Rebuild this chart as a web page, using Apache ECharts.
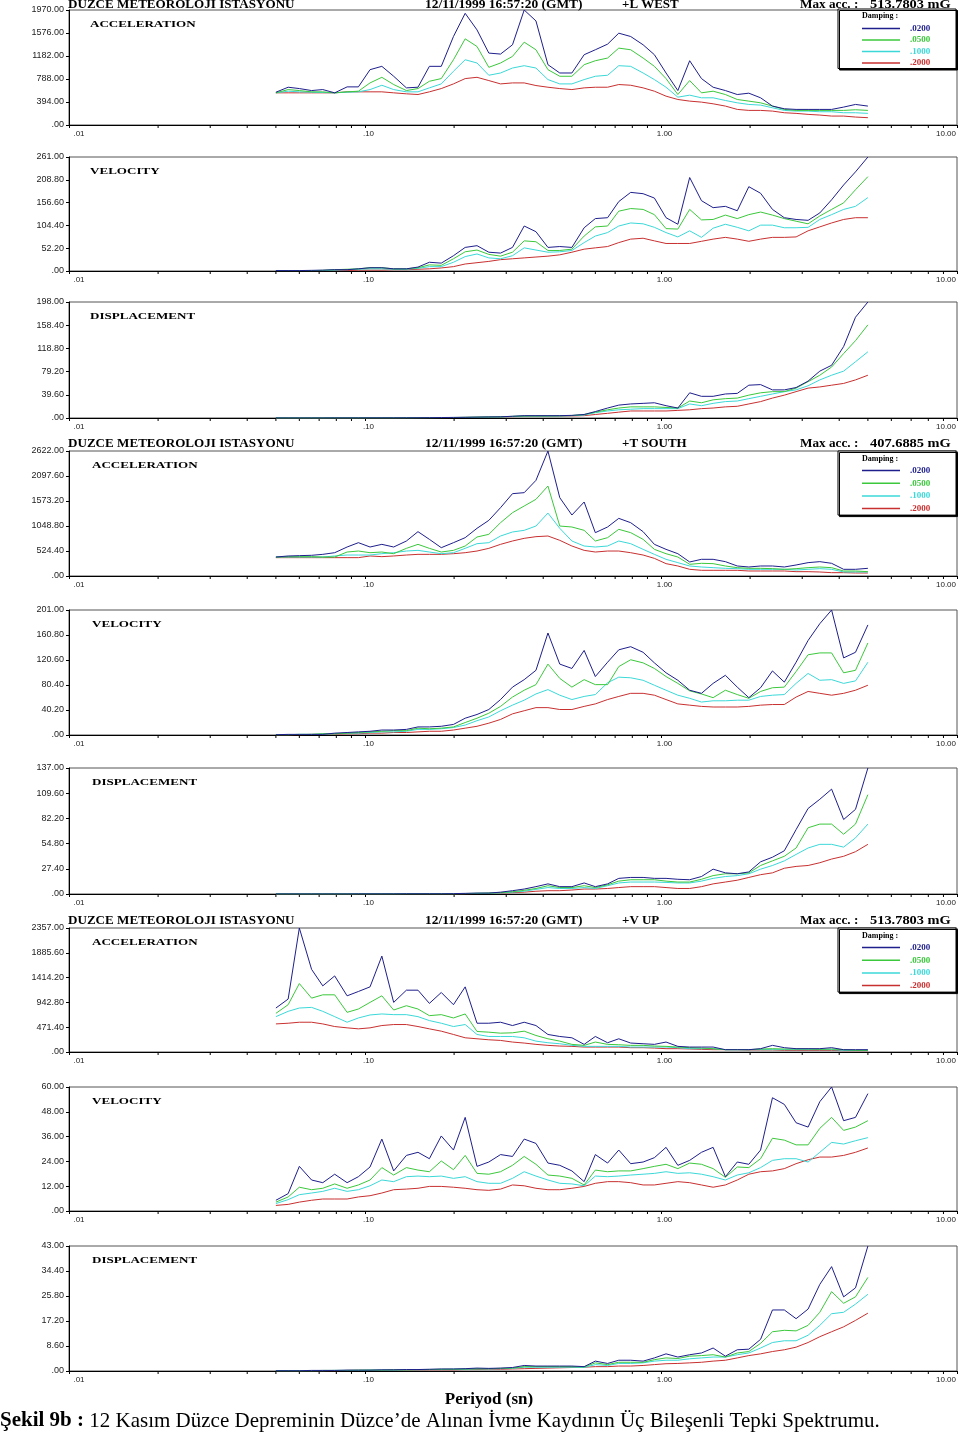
<!DOCTYPE html>
<html><head><meta charset="utf-8">
<script src="https://cdn.jsdelivr.net/npm/echarts@6/dist/echarts.min.js"></script>
<style>html,body{margin:0;padding:0;background:#fff}#c{width:960px;height:1433px}</style>
</head><body><div id="c"></div>
<script>
// ---- DATA ----
const periods = [0.050,0.055,0.060,0.066,0.072,0.079,0.087,0.095,0.104,0.114,0.125,0.138,0.151,0.165,0.181,0.199,0.218,0.239,0.262,0.287,0.315,0.345,0.378,0.415,0.455,0.50,0.55,0.60,0.66,0.72,0.79,0.87,0.95,1.04,1.14,1.25,1.37,1.50,1.65,1.81,1.98,2.17,2.38,2.61,2.86,3.14,3.44,3.77,4.14,4.54,5.00];
const dampings = ['.0200','.0500','.1000','.2000'];
const minorTicks = [0.02,0.03,0.04,0.05,0.06,0.07,0.08,0.09,0.2,0.3,0.4,0.5,0.6,0.7,0.8,0.9,2,3,4,5,6,7,8,9];
const xTickLabels = ['.01','.10','1.00','10.00'];
const yMaxes = [1970,261,198,2622,201,137,2357,60,43];
const panelTitles = ['ACCELERATION','VELOCITY','DISPLACEMENT','ACCELERATION','VELOCITY','DISPLACEMENT','ACCELERATION','VELOCITY','DISPLACEMENT'];
const stationName = 'DUZCE METEOROLOJI ISTASYONU';
const eventTime = '12/11/1999 16:57:20 (GMT)';
const components = ['+L WEST','+T SOUTH','+V UP'];
const maxAccLabel = 'Max acc. :';
const maxAccValues = ['513.7803 mG','407.6885 mG','513.7803 mG'];
const dampingTitle = 'Damping :';
const xAxisTitle = 'Periyod (sn)';
const captionBold = 'Şekil 9b :';
const captionText = ' 12 Kasım Düzce Depreminin Düzce’de Alınan İvme Kaydının Üç Bileşenli Tepki Spektrumu.';

// L WEST
const lwAcc020 = [562,647,624,590,607,551,653,653,948,1005,835,636,647,1005,1005,1516,1913,1629,1232,1215,1374,1970,1783,1033,891,891,1204,1289,1385,1573,1516,1374,1204,891,590,1101,795,647,590,522,545,466,324,278,267,267,267,267,307,352,324];
const lwAcc050 = [551,607,590,568,568,551,568,579,721,817,693,590,624,749,795,1118,1476,1345,988,1062,1175,1419,1289,948,835,835,1033,1101,1147,1317,1289,1147,1005,795,522,761,551,579,522,437,409,380,324,267,250,250,250,250,250,261,250];
const lwAcc100 = [551,579,568,562,556,551,562,568,607,681,607,568,568,636,704,920,1118,1062,852,891,976,1016,976,778,704,704,778,835,852,1016,1005,891,778,647,477,511,466,466,420,380,352,341,295,250,238,238,227,227,210,210,199];
const lwAcc200 = [551,551,551,551,551,551,568,568,568,568,551,534,522,568,624,704,795,817,761,704,721,721,676,647,624,607,636,647,647,693,681,636,579,494,437,409,392,363,324,267,250,250,238,210,199,182,170,153,153,136,125];
const lwVel020 = [1,1,1,1.5,2,3,3,5,7.5,7.5,5,5,9,20,18,35,54,58,43,41,54,103,90,54,56,54,99,120,122,159,180,177,167,122,107,214,161,145,148,138,193,178,141,122,118,116,133,163,197,227,261];
const lwVel050 = [1,1,1,1,1.5,3,4,5,7.5,7.5,5,5,7.5,14,13,28,44,48,38,34,43,69,67,47,47,50,80,101,103,137,143,141,129,97,96,141,117,118,128,120,129,135,128,120,114,108,126,141,156,186,216];
const lwVel100 = [1,1,1,1,1,2,3,4,5,5,4,4,6,10,10,20,33,39,30,28,35,53,48,43,44,47,65,80,88,103,110,108,100,88,78,92,77,98,107,100,92,105,105,99,99,100,118,129,141,148,168];
const lwVel200 = [1,1,1,1,1,1,1,2,2,2,3,3,4,5,7,10,16,19,22,26,28,30,32,34,37,43,50,53,56,65,73,75,69,63,63,63,68,73,77,73,68,73,77,77,78,92,101,110,118,122,122];
const lwDis020 = [0.1,0.1,0.1,0.1,0.1,0.2,0.2,0.2,0.3,0.3,0.3,0.4,0.5,0.6,0.8,1,1.2,1.5,1.8,2,3,4,4,4,4,4.5,6,11,17,22,24,25,26,21,17,43,37,37,41,42,56,57,48,48,52,63,80,90,122,172,198];
const lwDis050 = [0.1,0.1,0.1,0.1,0.1,0.2,0.2,0.2,0.3,0.3,0.3,0.4,0.5,0.6,0.7,0.9,1.1,1.4,1.7,2,2.8,3.5,3.6,3.6,3.8,4.2,6,10,14,17,19,19,19,18,17,29,26,31,33,34,39,43,45,45,51,62,73,87,110,132,159];
const lwDis100 = [0.1,0.1,0.1,0.1,0.1,0.2,0.2,0.2,0.3,0.3,0.3,0.4,0.5,0.6,0.7,0.8,1,1.3,1.6,1.9,2.6,3.2,3.3,3.3,3.5,4,5,9,12,14,15,16,16,16,16,24,21,25,28,29,33,37,41,45,48,55,65,73,80,96,113];
const lwDis200 = [0.1,0.1,0.1,0.1,0.1,0.2,0.2,0.2,0.3,0.3,0.3,0.4,0.5,0.6,0.7,0.8,1,1.2,1.5,1.8,2.4,2.8,3,3,3.2,3.5,4,6,8,10,12,12,12,12,13,14,16,17,19,20,24,28,34,39,45,51,53,56,59,65,73];
// T SOUTH
const tsAcc020 = [398,420,427,434,454,489,608,699,608,664,608,734,930,769,594,699,804,1000,1167,1433,1727,1748,2006,2622,1643,1279,1552,909,1028,1209,1118,930,664,559,468,294,350,350,301,210,189,210,210,189,231,280,301,266,140,140,161];
const tsAcc050 = [398,405,405,405,398,398,503,524,489,503,468,580,664,580,503,538,629,818,874,1118,1328,1468,1608,1887,1048,1028,958,734,804,979,909,769,559,468,398,245,266,259,210,175,161,161,154,140,154,175,189,175,105,105,91];
const tsAcc100 = [398,398,398,398,398,420,440,440,440,468,489,524,538,503,468,489,580,678,699,839,923,958,1048,1320,1000,734,629,608,629,734,678,559,454,350,280,210,189,175,161,154,140,140,140,140,126,140,154,140,84,84,84];
const tsAcc200 = [385,385,385,385,385,385,385,385,420,406,420,440,454,454,454,468,489,524,580,664,734,790,825,839,748,629,538,503,524,524,489,440,370,259,210,140,119,119,119,119,105,105,105,105,91,91,84,70,70,63,63];
const tsVel020 = [0.5,1,1,1,1,3,4,5,6,8,8,9,13,13,14,17,27,33,41,57,77,89,104,164,114,107,136,94,117,137,142,133,116,100,88,72,67,83,96,77,60,76,103,85,117,152,179,201,124,133,177];
const tsVel050 = [0.5,0.5,1,1,2,2,3,4,5,6,7,7,11,10,11,13,20,27,35,46,61,72,81,114,91,77,89,81,81,110,121,116,107,94,83,71,66,60,72,65,59,70,76,77,102,129,132,132,100,104,148];
const tsVel100 = [0.5,0.5,1,1,1.5,2,3,3,4,5,5,6,9,9,10,12,16,23,29,39,48,56,66,73,64,57,62,65,84,93,92,88,80,72,64,59,53,55,55,56,56,62,64,65,83,99,88,89,83,87,117];
const tsVel200 = [0.3,0.3,0.5,1,1,1.5,2,2,3,3,4,4,5,6,6,8,11,14,19,25,34,39,44,44,41,41,46,50,57,62,67,67,64,57,50,48,46,45,45,45,46,48,49,49,61,70,67,64,67,72,80];
const tsDis020 = [0.1,0.1,0.1,0.1,0.1,0.1,0.1,0.2,0.2,0.2,0.2,0.3,0.3,0.3,0.3,0.4,0.7,1,1,2,3.6,5.4,8,11,8,8,12,8,11,17,18,18,17,17,16,15.5,19,27,23,22,24,35,40,47,70,93,103,114,81,92,137];
const tsDis050 = [0.1,0.1,0.1,0.1,0.1,0.1,0.1,0.2,0.2,0.2,0.2,0.3,0.3,0.3,0.3,0.3,0.5,0.8,1,1.5,2.5,4,6,9,7,7,9,7,10,14,15.5,15.5,15.5,14,13,13,16,20,22,22,23,31,36,41,50,72,76,76,65,76,108];
const tsDis100 = [0.1,0.1,0.1,0.1,0.1,0.1,0.1,0.2,0.2,0.2,0.2,0.3,0.3,0.3,0.3,0.3,0.4,0.6,0.8,1.2,2,3,5,7,6,6,7,6,9,12,13,13,13,12.6,12,12,14,17,19,20,22,27,31,36,43,50,54,54,51,61,76];
const tsDis200 = [0.1,0.1,0.1,0.1,0.1,0.1,0.1,0.1,0.1,0.1,0.2,0.2,0.2,0.2,0.2,0.2,0.3,0.5,0.7,1,1.5,2,3,3.6,3.6,4.3,5.4,5.4,6,7,8,8,8,7,6,6,8,11,13,15,18,21,23,28,30,31,34,38,41,46,54];
// V UP
const vuAcc020 = [836,1006,2357,1571,1257,1446,1068,1150,1238,1823,943,1175,1175,924,1131,899,1238,547,547,566,503,566,503,333,295,270,145,295,176,251,170,157,145,189,107,94,94,94,44,44,44,63,126,82,63,63,63,82,44,44,44];
const vuAcc050 = [735,899,1301,1024,1087,1087,754,817,943,1068,798,880,817,691,710,647,723,390,377,358,365,396,314,251,207,145,126,189,145,138,126,126,113,107,94,82,75,63,44,44,44,57,63,57,57,57,50,57,44,31,31];
const vuAcc100 = [672,773,836,848,773,672,566,647,704,723,710,710,672,597,547,484,522,333,295,295,295,270,207,176,157,126,107,107,107,107,94,94,94,94,82,63,63,63,44,44,44,44,44,44,44,44,44,44,31,31,31];
const vuAcc200 = [534,547,566,566,534,484,459,440,459,503,522,522,484,440,396,333,270,251,232,220,189,170,145,126,113,107,94,94,94,94,82,82,75,63,63,57,50,44,44,44,38,38,38,31,31,31,31,31,25,25,25];
const vuVel020 = [5.2,8.4,21.6,15,13.7,17.8,13.7,16.6,21.3,34.8,19.4,26.9,28.4,25.3,36.3,29.5,45.3,21.6,23.7,27.3,26.4,34.8,32.7,23.2,22.1,19.4,14.2,27.3,23.2,29.5,22.9,23.7,25.8,30.8,22.1,24.5,28.4,30.8,16.6,23.7,22.6,29.5,54.8,51.6,42.7,40.6,52.9,60,43.7,45.3,56.8];
const vuVel050 = [4.3,6.8,11.5,10.3,11,13.1,11,12.6,15,21,17.4,21,19.8,19,24.2,20,26.9,18.2,17.8,19,22.1,26.4,22.6,17.4,16.9,15.8,12.6,19.8,19,19.4,19.4,20.5,21.6,22.6,20.5,23.2,22.6,20.5,16.3,21.3,21,25.3,35.2,34.3,32,32,40,45.3,39,40.6,43.7];
const vuVel100 = [3.6,5.5,7.9,8.7,9.5,11,9.5,10.3,12.2,15,14.2,16.6,16.9,16.6,16.9,15.8,16.6,14.2,13.4,13.4,15.8,19,16.9,15,13.4,13.1,12.2,16.9,16.6,16.9,17.4,17.8,18.2,19,18.2,18.5,17.8,16.6,15,17.4,18.5,21,24.5,25.3,25.3,23.7,28.4,33.2,32.4,34,35.5];
const vuVel200 = [2.7,3.2,4.3,5.2,5.8,5.8,5.8,6.8,7.4,8.7,10.3,10.6,11,11.9,11.9,11.5,11,10.3,10,10.6,12.6,12.2,11,10.3,10.3,11,11.9,13.4,14.2,14.2,13.7,12.6,12.6,13.4,14.2,13.7,12.6,11.5,12.6,15,17.8,19,19.4,20.5,22.9,24.8,26.1,26.1,26.9,28.4,30.5];
const vuDis020 = [0.1,0.1,0.1,0.2,0.2,0.2,0.3,0.3,0.3,0.4,0.4,0.5,0.5,0.6,0.7,0.7,0.8,1.0,0.9,1.0,1.2,1.9,1.7,1.7,1.7,1.7,1.5,3.4,2.6,3.7,3.7,3.4,4.5,5.9,4.8,5.6,6.2,7.9,5.1,7.3,7.5,10.9,21,21,18,21.3,29.8,35.9,25.5,28.6,43];
const vuDis050 = [0.1,0.1,0.1,0.1,0.2,0.2,0.2,0.3,0.3,0.3,0.4,0.4,0.5,0.5,0.6,0.6,0.7,0.8,0.8,0.9,1.0,1.5,1.5,1.5,1.5,1.5,1.4,2.8,2.2,3,3,3,3.9,4.5,4.3,5.1,5.3,5.6,4.8,6.2,6.7,9.5,13.5,14,13.8,15.7,20.2,27.3,23.3,25.5,32.2];
const vuDis100 = [0.1,0.1,0.1,0.1,0.1,0.2,0.2,0.2,0.3,0.3,0.3,0.4,0.4,0.5,0.5,0.6,0.6,0.7,0.7,0.8,0.9,1.3,1.3,1.3,1.3,1.3,1.2,2.2,1.9,2.6,2.6,2.8,3.4,3.7,3.7,4.2,4.5,4.8,4.8,5.6,6.2,7.9,9.8,10.4,10.4,12.3,15.7,19.7,20.2,23,26.4];
const vuDis200 = [0.1,0.1,0.1,0.1,0.1,0.1,0.2,0.2,0.2,0.2,0.3,0.3,0.3,0.4,0.4,0.4,0.5,0.5,0.6,0.6,0.7,0.8,0.9,1.0,1.1,1.2,1.3,1.5,1.5,1.7,1.7,1.9,2.2,2.5,2.6,2.8,3,3.4,3.7,4.5,5.3,5.9,6.7,7.3,8.2,9.8,11.8,13.5,15.2,17.4,19.9];

const panelSeries = [
  [lwAcc020,lwAcc050,lwAcc100,lwAcc200],[lwVel020,lwVel050,lwVel100,lwVel200],[lwDis020,lwDis050,lwDis100,lwDis200],
  [tsAcc020,tsAcc050,tsAcc100,tsAcc200],[tsVel020,tsVel050,tsVel100,tsVel200],[tsDis020,tsDis050,tsDis100,tsDis200],
  [vuAcc020,vuAcc050,vuAcc100,vuAcc200],[vuVel020,vuVel050,vuVel100,vuVel200],[vuDis020,vuDis050,vuDis100,vuDis200]
];

// ---- LAYOUT / STYLE ----
const colors = ['#1e1e8c','#3cc83c','#3cd8d8','#c83030'];
const gridTops = [10,157,302,451,610,768,928,1087,1246];
const gridBottoms = [125,271,418,576,735,894,1052,1211,1371];
const GL = 69, GR = 957;
const serif = '"Liberation Serif", "DejaVu Serif", serif';
const sans = '"Liberation Sans", Arial, sans-serif';
const labelStyles = ['f', 'm', 'm', 'l'];

const chart = echarts.init(document.getElementById('c'), null, {renderer:'canvas'});

const grid = [], xAxis = [], yAxis = [], series = [];
for (let i = 0; i < 9; i++) {
  grid.push({left: GL, top: gridTops[i], width: GR - GL, height: gridBottoms[i] - gridTops[i],
    show: true, borderColor: '#555', borderWidth: 1, containLabel: false, outerBoundsMode: 'none'});
  xAxis.push({type: 'log', logBase: 10, gridIndex: i, min: 0.01, max: 10,
    axisLine: {show: true, lineStyle: {color: '#000', width: 1}},
    axisTick: {show: true, inside: false, length: 3, lineStyle: {color: '#000'}},
    splitLine: {show: false},
    axisLabel: {show: true, margin: 5, fontSize: 8, fontFamily: sans, color: '#222',
      rich: {f: {padding: [0,0,0,20]}, m: {padding: [0,0,0,7]}, l: {padding: [0,22,0,0]}},
      formatter: v => { const k = Math.round(Math.log10(v)) + 2; return '{' + labelStyles[k] + '|' + xTickLabels[k] + '}'; }}});
  yAxis.push({type: 'value', gridIndex: i, min: 0, max: yMaxes[i], interval: yMaxes[i] / 5,
    axisLine: {show: true, lineStyle: {color: '#000', width: 1}},
    axisTick: {show: true, length: 3, lineStyle: {color: '#000'}},
    splitLine: {show: false},
    axisLabel: {margin: 5, fontSize: 9, fontFamily: sans, color: '#222',
      formatter: v => (Math.abs(v) < 1e-9 ? '.00' : v.toFixed(2))}});
  panelSeries[i].forEach((arr, j) => {
    series.push({type: 'line', name: dampings[j], xAxisIndex: i, yAxisIndex: i,
      data: periods.map((p, k) => [p, arr[k]]),
      showSymbol: false, symbol: 'none', animation: false, silent: true,
      lineStyle: {color: colors[j], width: 1}, itemStyle: {color: colors[j]}, z: 10 - j});
  });
  series.push({type: 'custom', name: 'minor' + i, xAxisIndex: i, yAxisIndex: i, silent: true, animation: false, clip: false,
    data: minorTicks.map(v => [v, 0]),
    renderItem: (params, api) => {
      const p = api.coord([api.value(0), 0]);
      return {type: 'line', shape: {x1: p[0], y1: p[1], x2: p[0], y2: p[1] + 3}, style: {stroke: '#000', lineWidth: 1}};
    }});
}

const legendTops = [9, 451, 928];
const legend = legendTops.map((t, g) => ({
  left: 838, top: t, orient: 'vertical', selectedMode: false,
  data: dampings.map((d, j) => ({name: d, textStyle: {color: colors[j]}})),
  icon: 'rect', itemWidth: 38, itemHeight: 1.5, itemGap: g === 0 ? 0.5 : 1.7,
  padding: [14, 13, g === 0 ? 0 : 1, 24],
  borderColor: '#000', borderWidth: 1, backgroundColor: '#fff',
  shadowColor: '#000', shadowOffsetX: 1.5, shadowOffsetY: 1.5, shadowBlur: 0,
  textStyle: {fontFamily: serif, fontWeight: 'bold', fontSize: 9, lineHeight: 11, width: 33, padding: [0,0,0,5]}
}));

const graphic = [];
const headerY = [5, 444, 921];
const dampTitleY = [16, 459, 936];
const hdrFont = 'bold 12px ' + serif;
for (let g = 0; g < 3; g++) {
  graphic.push({type: 'text', x: 68, y: headerY[g], scaleX: 1.09, style: {text: stationName, font: hdrFont, fill: '#000', textVerticalAlign: 'middle'}});
  graphic.push({type: 'text', x: 425, y: headerY[g], scaleX: 1.12, style: {text: eventTime, font: hdrFont, fill: '#000', textVerticalAlign: 'middle'}});
  graphic.push({type: 'text', x: 622, y: headerY[g], scaleX: 1.08, style: {text: components[g], font: hdrFont, fill: '#000', textVerticalAlign: 'middle'}});
  graphic.push({type: 'text', x: 800, y: headerY[g], scaleX: 1.1, style: {text: maxAccLabel, font: hdrFont, fill: '#000', textVerticalAlign: 'middle'}});
  graphic.push({type: 'text', x: 870, y: headerY[g], scaleX: 1.2, style: {text: maxAccValues[g], font: hdrFont, fill: '#000', textVerticalAlign: 'middle'}});
  graphic.push({type: 'text', x: 862, y: dampTitleY[g], z: 100, style: {text: dampingTitle, font: 'bold 8px ' + serif, fill: '#000', textVerticalAlign: 'middle'}});
}
for (let i = 0; i < 9; i++) {
  graphic.push({type: 'text', x: i < 3 ? 90 : 92, y: gridTops[i] + 15, scaleX: 1.45,
    style: {text: panelTitles[i], font: 'bold 9px ' + serif, fill: '#000', textVerticalAlign: 'middle'}});
}
graphic.push({type: 'text', x: 489, y: 1400, style: {text: xAxisTitle, font: 'bold 17px ' + serif, fill: '#000', textAlign: 'center', textVerticalAlign: 'middle'}});
graphic.push({type: 'text', x: 0, y: 1421, style: {text: '{b|' + captionBold + '}' + captionText, font: '21px ' + serif, fill: '#000', textVerticalAlign: 'middle',
  rich: {b: {font: 'bold 21px ' + serif, fill: '#000'}}}});

chart.setOption({animation: false, backgroundColor: '#fff', grid, xAxis, yAxis, series, legend, graphic});
</script></body></html>
